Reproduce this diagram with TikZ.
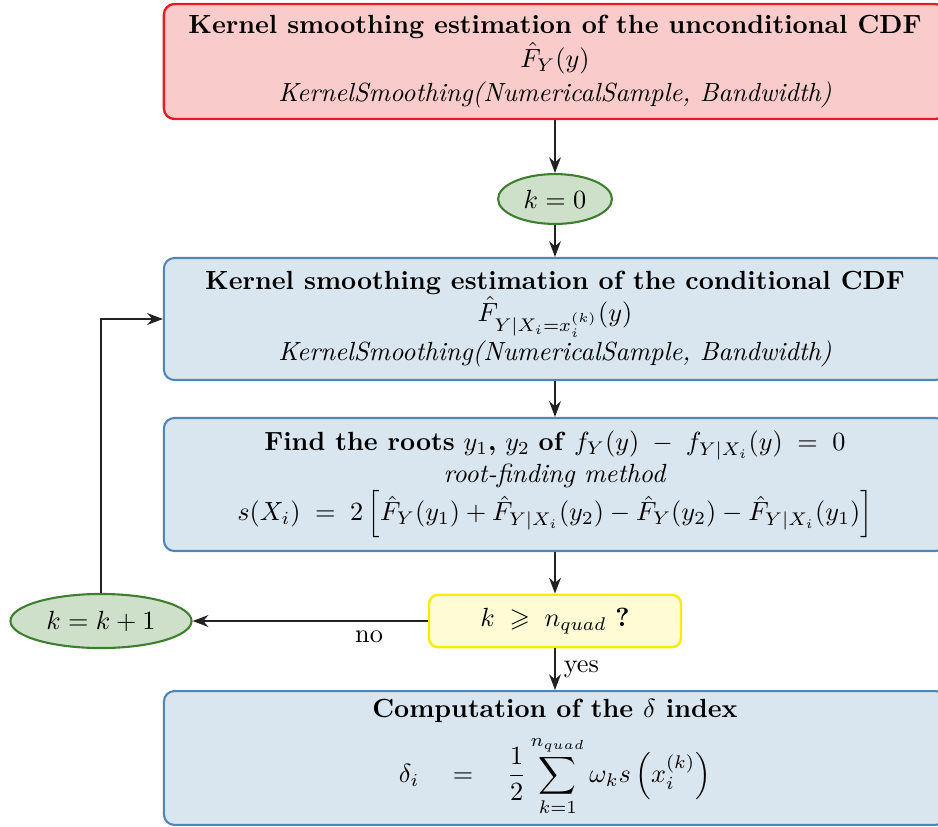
\documentclass[tikz,border=0pt]{standalone}
\usepackage{amsmath,amssymb}
\usetikzlibrary{shapes.geometric,arrows.meta}

\definecolor{redfill}{HTML}{F9CBCB}
\definecolor{redline}{HTML}{E51E25}
\definecolor{bluefill}{HTML}{DAE6EF}
\definecolor{blueline}{HTML}{4F86B5}
\definecolor{greenfill}{HTML}{CFE0CA}
\definecolor{greenline}{HTML}{3D7F2E}
\definecolor{yellowfill}{HTML}{FFFBD5}
\definecolor{yellowline}{HTML}{FAEC00}
\definecolor{arrowgray}{HTML}{222222}

\tikzset{
  stepbox/.style={draw=blueline, fill=bluefill, line width=0.8pt, rounded corners=4pt,
    minimum width=298pt, align=center, inner sep=2pt},
  startbox/.style={stepbox, draw=redline, fill=redfill, line width=0.9pt},
  counter/.style={ellipse, draw=greenline, fill=greenfill, line width=0.8pt, inner sep=0pt},
  testbox/.style={draw=yellowline, fill=yellowfill, line width=0.9pt, rounded corners=3.5pt,
    minimum width=96pt, minimum height=20pt, align=center},
  flow/.style={->, draw=arrowgray, line width=0.7pt}
}

\begin{document}
\begin{tikzpicture}[x=0.381pt, y=-0.381pt, >={Stealth[length=6pt, width=4.5pt]}]
  \useasboundingbox (0,0) rectangle (938,826);

  % Unconditional CDF
  \node[startbox, minimum height=43.8pt] (uncond) at (555,61.5)
    {\textbf{Kernel smoothing estimation of the unconditional CDF}\\[1pt]
     $\hat{F}_Y(y)$\\[1pt]
     \textit{KernelSmoothing(NumericalSample, Bandwidth)}};

  % Counter initialisation
  \node[counter, minimum width=43.4pt, minimum height=19pt] (init) at (555,199) {$k = 0$};

  % Conditional CDF
  \node[stepbox, minimum height=46.5pt] (cond) at (555,319)
    {\textbf{Kernel smoothing estimation of the conditional CDF}\\
     $\hat{F}_{Y|X_i=x_i^{(k)}}(y)$\\
     \textit{KernelSmoothing(NumericalSample, Bandwidth)}};

  % Roots
  \node[stepbox, minimum height=50.7pt] (roots) at (555,484.5)
    {\textbf{Find the roots} $y_1$\textbf{,} $y_2$ \textbf{of} $f_Y(y) \;-\; f_{Y|X_i}(y) \;=\; 0$\\
     \textit{root-finding method}\\
     $s(X_i) \;=\; 2\left[\hat{F}_Y(y_1) + \hat{F}_{Y|X_i}(y_2) - \hat{F}_Y(y_2) - \hat{F}_{Y|X_i}(y_1)\right]$};

  % Test
  \node[testbox] (test) at (555,621) {$k \;\geqslant\; n_{quad}$ \textbf{?}};

  % Increment
  \node[counter, minimum width=69pt, minimum height=20.6pt] (incr) at (101,621) {$k = k + 1$};

  % Delta index
  \node[stepbox, minimum height=51pt] (delta) at (555,758)
    {\textbf{Computation of the $\delta$ index}\\[4pt]
     $\displaystyle \delta_i \quad = \quad \frac{1}{2}\sum_{k=1}^{n_{quad}} \omega_k s\left(x_i^{(k)}\right)$};

  % Connections
  \draw[flow] (uncond) -- (init);
  \draw[flow] (init) -- (cond);
  \draw[flow] (cond) -- (roots);
  \draw[flow] (roots) -- (test);
  \draw[flow] (test) -- (incr) node[pos=0.25, below] {no};
  \draw[flow] (test) -- (delta) node[midway, right, inner sep=3pt] {yes};
  \draw[flow] (incr.north) |- (cond.west);
\end{tikzpicture}
\end{document}
